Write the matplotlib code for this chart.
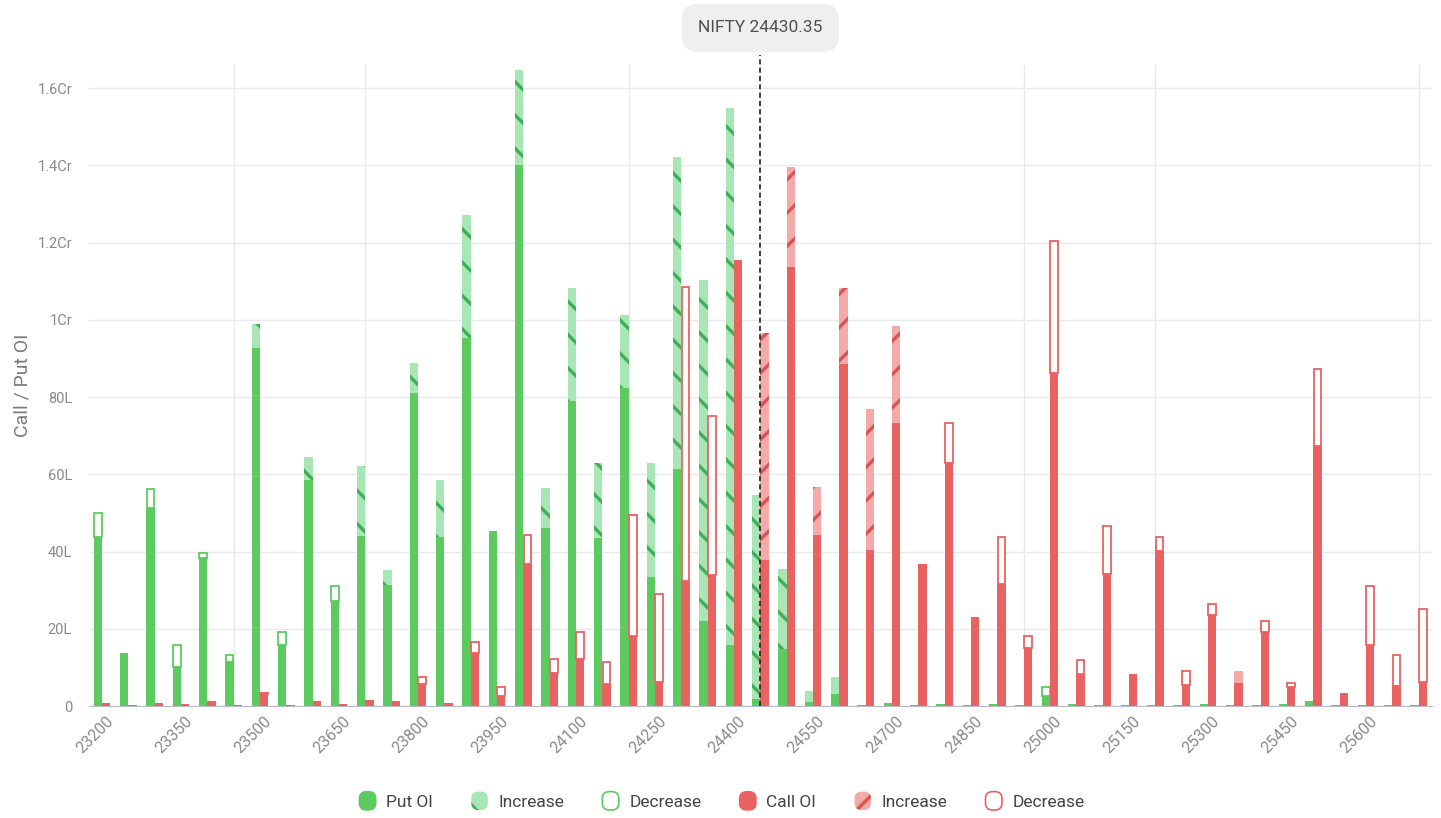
import numpy as np
import matplotlib.pyplot as plt
from matplotlib.patches import Patch, FancyBboxPatch
from matplotlib.legend_handler import HandlerPatch
from matplotlib.transforms import ScaledTranslation, blended_transform_factory

plt.rcParams['font.family'] = ['Roboto', 'DejaVu Sans']
plt.rcParams['hatch.linewidth'] = 2.4

# strikes, values in lakhs
strikes = list(range(23200, 25701, 50))
spot = 24430.35

# current put OI and change (negative = decrease)
put_oi = [43.8, 13.7, 51.4, 10.2, 38.3, 11.5, 99.0, 15.9, 64.4, 27.1,
          62.2, 35.2, 88.9, 58.6, 127.2, 45.4, 164.7, 56.4, 108.3, 62.9,
          101.2, 62.9, 142.3, 110.3, 154.9, 54.7, 35.6, 3.8, 7.4, 0.3,
          0.8, 0.2, 0.6, 0.2, 0.5, 0.3, 2.7, 0.4, 0.3, 0.2,
          0.3, 0.2, 0.5, 0.3, 0.3, 0.4, 1.3, 0.3, 0.2, 0.3, 0.2]
put_chg = [-6.3, 0, -4.7, -5.7, -1.3, -1.6, 6.3, -3.3, 5.8, -4.1,
           18.1, 3.8, 7.9, 14.8, 32.0, 0, 24.6, 10.4, 29.3, 19.3,
           18.9, 29.5, 80.8, 88.4, 139.0, 53.0, 20.8, 2.7, 4.4, 0,
           0, 0, 0, 0, 0, 0, -2.2, 0, 0, 0,
           0, 0, 0, 0, 0, 0, 0, 0, 0, 0, 0]

# current call OI and change
call_oi = [0.8, 0.3, 0.7, 0.4, 1.2, 0.3, 3.0, 0.2, 1.2, 0.5,
           1.6, 1.2, 5.7, 0.9, 13.7, 2.7, 36.9, 8.5, 12.3, 5.7,
           18.1, 6.3, 32.3, 33.9, 115.5, 96.5, 139.5, 56.7, 108.3, 76.8,
           98.5, 36.7, 62.9, 23.0, 31.7, 15.0, 86.2, 8.2, 34.1, 8.2,
           40.2, 5.5, 23.5, 9.0, 19.2, 4.9, 67.3, 3.3, 15.9, 5.1, 6.3]
call_chg = [0, 0, 0, 0, 0, 0, -0.5, 0, 0, 0,
            0, 0, -1.7, 0, -2.9, -2.1, -7.4, -3.8, -6.9, -5.8,
            -31.4, -22.7, -76.3, -41.3, 0, 58.7, 25.7, 12.4, 19.7, 36.3,
            25.2, 0, -10.4, 0, -12.1, -3.1, -34.2, -3.8, -12.4, 0,
            -3.6, -3.5, -2.8, 3.0, -2.7, -1.1, -19.9, 0, -15.3, -8.0, -18.9]

green = '#5ccb5f'
green_lt = '#a9e6b6'
green_dk = '#3fae57'
red = '#e86262'
red_lt = '#f5aaaa'
red_dk = '#d65454'

x = np.arange(len(strikes))
w = 0.32

fig = plt.figure(figsize=(14.41, 8.18), dpi=100)
ax = fig.add_axes([0.0616, 0.1369, 0.932, 0.7836])


def draw(oi, chg, xs, col, lt, dk, hatch):
    oi = np.array(oi)
    chg = np.array(chg)
    inc = np.where(chg > 0, chg, 0)
    dec = np.where(chg < 0, -chg, 0)
    solid = oi - inc
    ax.bar(xs, solid, w, color=col, linewidth=0, zorder=3)
    ax.bar(xs, inc, w, bottom=solid, facecolor=lt, edgecolor=dk,
           hatch=hatch, linewidth=0, zorder=3)
    m = dec > 0
    ax.bar(xs[m], dec[m], w * 0.9, bottom=oi[m], facecolor='white',
           edgecolor=col, linewidth=1.3, zorder=3)


draw(put_oi, put_chg, x - w / 2, green, green_lt, green_dk, '\\')
draw(call_oi, call_chg, x + w / 2, red, red_lt, red_dk, '/')

ax.set_xlim(-0.5, len(strikes) - 0.5)
ax.set_ylim(0, 166)

yt = [0, 20, 40, 60, 80, 100, 120, 140, 160]
ylab = ['0' if v == 0 else (f'{v}L' if v < 100 else f'{v/100:g}Cr') for v in yt]
ax.set_yticks(yt)
ax.set_yticklabels(ylab, color='#8a8a8a', fontsize=10.5)
ax.set_xticks(x[::3])
ax.set_xticklabels([str(s) for s in strikes[::3]], rotation=45, ha='right',
                   va='center', rotation_mode='anchor', color='#8a8a8a',
                   fontsize=11.5)

ax.tick_params(axis='y', length=0, pad=12)
ax.tick_params(axis='x', length=0, pad=9)
ax.yaxis.grid(True, color='#e9e9e9', linewidth=1, zorder=0)
ax.set_xticks(x[::5], minor=True)
ax.xaxis.grid(True, which='minor', color='#e9e9e9', linewidth=1, zorder=0)
ax.tick_params(which='minor', length=0)
for s in ['top', 'right', 'left']:
    ax.spines[s].set_visible(False)
ax.spines['bottom'].set_color('#b8bcc8')
ax.spines['bottom'].set_zorder(4)

# nudge rotated strike labels right (after tick_params, which resets transforms)
off = ScaledTranslation(0.09, 0.0, fig.dpi_scale_trans)
for lbl in ax.get_xticklabels():
    lbl.set_transform(lbl.get_transform() + off)

ax.set_ylabel('Call / Put OI', color='#7a7a7a', fontsize=14)
ax.yaxis.set_label_coords(-0.043, 0.5)

# spot marker
xs = strikes.index(int(round(spot / 50) * 50))
ax.axvline(xs, ymin=0, ymax=1.016, color='#222222', linestyle=(0, (3, 2)),
           linewidth=1.2, clip_on=False, zorder=5)
tr = blended_transform_factory(ax.transData, ax.transAxes)
ax.text(xs, 1.058, f'NIFTY {spot:.2f}', transform=tr, ha='center', va='center',
        fontsize=12.5, color='#505050',
        bbox=dict(boxstyle='round,pad=0.95', facecolor='#efeff1', edgecolor='none'))


class RoundHandler(HandlerPatch):
    def create_artists(self, legend, orig_handle, xdescent, ydescent,
                       width, height, fontsize, trans):
        p = FancyBboxPatch((-xdescent, -ydescent), width, height,
                           boxstyle='round,pad=0,rounding_size=5')
        self.update_prop(p, orig_handle, legend)
        p.set_transform(trans)
        return [p]


handles = [
    Patch(facecolor=green, edgecolor=green, label='Put OI'),
    Patch(facecolor=green_lt, edgecolor=green_dk, hatch='\\', linewidth=0, label='Increase'),
    Patch(facecolor='white', edgecolor=green, linewidth=1.2, label='Decrease'),
    Patch(facecolor=red, edgecolor=red, label='Call OI'),
    Patch(facecolor=red_lt, edgecolor=red_dk, hatch='/', linewidth=0, label='Increase'),
    Patch(facecolor='white', edgecolor=red, linewidth=1.2, label='Decrease'),
]
fig.legend(handles=handles, loc='center', bbox_to_anchor=(0.501, 0.021), ncol=6,
           frameon=False, fontsize=12.5, handlelength=0.95, handleheight=1.25,
           handletextpad=0.6, columnspacing=2.2, labelcolor='#444444',
           handler_map={Patch: RoundHandler()})

fig.savefig('out.png', dpi=100)
